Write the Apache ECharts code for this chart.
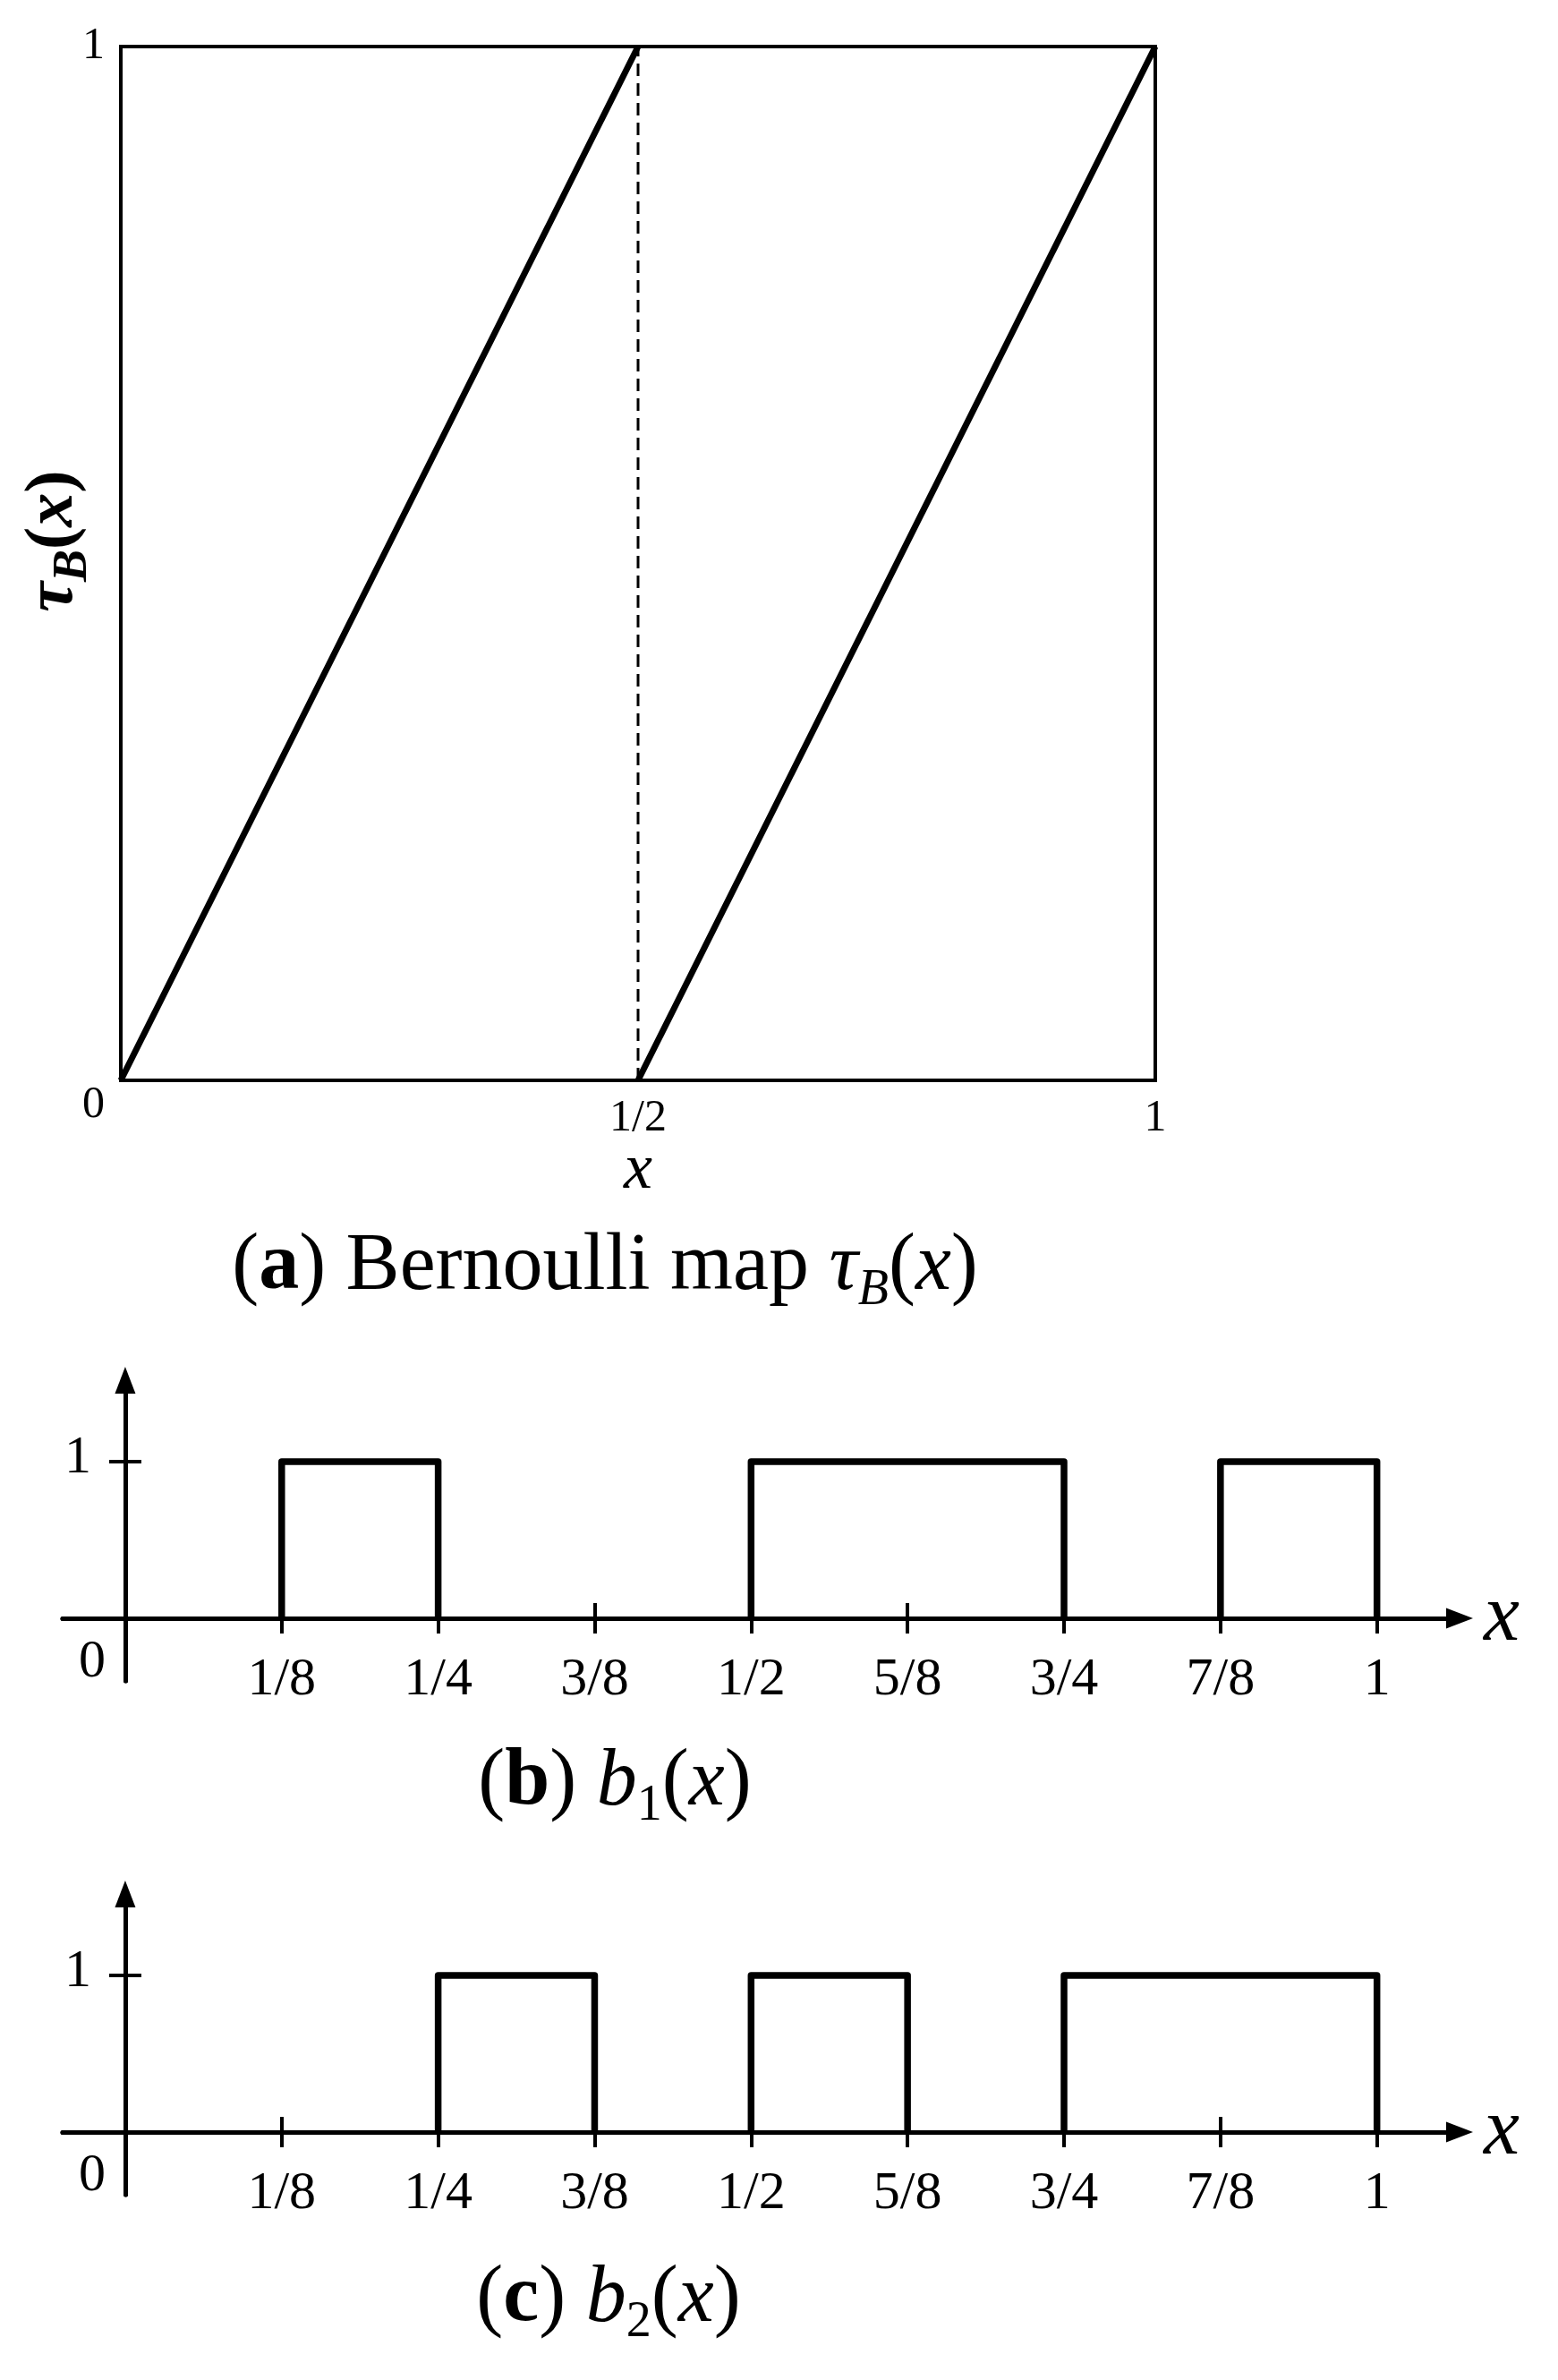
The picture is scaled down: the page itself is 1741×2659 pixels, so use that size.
<!DOCTYPE html>
<html>
<head>
<meta charset="utf-8">
<script src="https://cdn.jsdelivr.net/npm/echarts@6/dist/echarts.min.js"></script>
<style>
  html, body { margin: 0; padding: 0; background: #fff; }
  #chart { width: 1741px; height: 2659px; }
</style>
</head>
<body>
<div id="chart"></div>
<script>
// (a) Bernoulli map
const mapTickVals = [0, 0.5, 1]
const mapTickText = ['0', '1/2', '1']
const branchLeft = [[0, 0], [0.5, 1]]
const branchRight = [[0.5, 0], [1, 1]]
const halfLine = [[0.5, 0], [0.5, 1]]

// (b) b1(x), (c) b2(x): intervals where the function equals 1
const fracTicks = [0.125, 0.25, 0.375, 0.5, 0.625, 0.75, 0.875, 1]
const fracLabels = ['1/8', '1/4', '3/8', '1/2', '5/8', '3/4', '7/8', '1']
const b1On = [[0.125, 0.25], [0.5, 0.75], [0.875, 1]]
const b2On = [[0.25, 0.375], [0.5, 0.625], [0.75, 1]]

const serif = 'Liberation Serif'
const black = '#000'

function pulseSeries(intervals, axisIndex) {
  return intervals.map(function (iv) {
    return {
      type: 'line',
      xAxisIndex: axisIndex,
      yAxisIndex: axisIndex,
      symbol: 'none',
      clip: false,
      lineStyle: { color: black, width: 7.5, join: 'round' },
      data: [[iv[0], 0], [iv[0], 1], [iv[1], 1], [iv[1], 0]]
    }
  })
}

function pulseXAxes(gi) {
  return [
    {
      gridIndex: gi,
      type: 'value',
      min: -0.05,
      max: 1.066,
      splitLine: { show: false },
      axisLine: {
        show: true,
        onZero: true,
        symbol: ['none', 'triangle'],
        symbolSize: [23, 30],
        lineStyle: { color: black, width: 5 }
      },
      axisTick: {
        show: true,
        customValues: fracTicks,
        length: 17,
        lineStyle: { color: black, width: 4 }
      },
      // labels stay on the grid edge, which is 70px under the zero line
      axisLabel: {
        customValues: fracTicks,
        formatter: function (v) { return fracLabels[fracTicks.indexOf(v)] },
        margin: -31,
        fontSize: 60,
        fontFamily: serif,
        color: black
      },
      name: 'x',
      nameLocation: 'end',
      nameGap: 27,
      nameMoveOverlap: false,
      nameTextStyle: {
        fontFamily: serif,
        fontStyle: 'italic',
        fontSize: 90,
        color: black,
        padding: [0, 0, 16, 0]
      }
    },
    {
      // upward half of the ticks
      gridIndex: gi,
      type: 'value',
      position: 'bottom',
      min: -0.05,
      max: 1.066,
      splitLine: { show: false },
      axisLine: { show: true, onZero: true, lineStyle: { color: black, width: 5 } },
      axisTick: {
        show: true,
        inside: true,
        customValues: fracTicks,
        length: 17,
        lineStyle: { color: black, width: 4 }
      },
      axisLabel: { show: false }
    }
  ]
}

function pulseYAxes(gi) {
  return [
    {
      gridIndex: gi,
      type: 'value',
      min: -0.4,
      max: 1.52,
      splitLine: { show: false },
      axisLine: {
        show: true,
        onZero: true,
        symbol: ['none', 'triangle'],
        symbolSize: [23, 30],
        lineStyle: { color: black, width: 5 }
      },
      axisTick: {
        show: true,
        customValues: [1],
        length: 18,
        lineStyle: { color: black, width: 4 }
      },
      axisLabel: {
        customValues: [0, 1],
        formatter: function (v) { return v === 0 ? '{z|0}' : '{o|1}' },
        margin: -48,
        color: black,
        rich: {
          z: { fontSize: 60, fontFamily: serif, color: black, padding: [98, 0, 0, 0] },
          o: { fontSize: 60, fontFamily: serif, color: black, padding: [0, 16, 8, 0] }
        }
      }
    },
    {
      gridIndex: gi,
      type: 'value',
      position: 'left',
      min: -0.4,
      max: 1.52,
      splitLine: { show: false },
      axisLine: { show: true, onZero: true, lineStyle: { color: black, width: 5 } },
      axisTick: {
        show: true,
        inside: true,
        customValues: [1],
        length: 18,
        lineStyle: { color: black, width: 4 }
      },
      axisLabel: { show: false }
    }
  ]
}

const capRich = {
  n: { fontSize: 90, fontFamily: serif, color: black },
  b: { fontSize: 90, fontFamily: serif, fontWeight: 'bold', color: black },
  i: { fontSize: 90, fontFamily: serif, fontStyle: 'italic', color: black },
  s: { fontSize: 56, fontFamily: serif, fontStyle: 'italic', color: black, padding: [53, 0, 0, 0] },
  d: { fontSize: 56, fontFamily: serif, color: black, padding: [53, 0, 0, 0] }
}

function caption(text, x, y) {
  return {
    type: 'text',
    x: x,
    y: y,
    style: { text: text, align: 'center', verticalAlign: 'middle', rich: capRich }
  }
}

const option = {
  animation: false,
  backgroundColor: '#fff',
  grid: [
    { left: 135, top: 52, width: 1156, height: 1155, show: true, borderColor: black, borderWidth: 4 },
    { left: 70, top: 1542, width: 1561, height: 336 },
    { left: 70, top: 2116, width: 1561, height: 336 }
  ],
  xAxis: [
    {
      gridIndex: 0,
      type: 'value',
      min: 0,
      max: 1,
      interval: 0.5,
      splitLine: { show: false },
      axisLine: { show: false },
      axisTick: { show: false },
      axisLabel: {
        formatter: function (v) { return v === 0 ? '' : mapTickText[mapTickVals.indexOf(v)] },
        margin: 18,
        fontSize: 50,
        fontFamily: serif,
        color: black
      },
      name: 'x',
      nameLocation: 'middle',
      nameGap: 65,
      nameMoveOverlap: false,
      nameTextStyle: { fontFamily: serif, fontStyle: 'italic', fontSize: 72, color: black }
    }
  ].concat(pulseXAxes(1), pulseXAxes(2)),
  yAxis: [
    {
      gridIndex: 0,
      type: 'value',
      min: 0,
      max: 1,
      interval: 1,
      splitLine: { show: false },
      axisLine: { show: false },
      axisTick: { show: false },
      axisLabel: {
        formatter: function (v) { return v === 0 ? '{z|0}' : '{o|1}' },
        margin: 18,
        rich: {
          z: { fontSize: 50, fontFamily: serif, color: black, padding: [56, 0, 0, 0] },
          o: { fontSize: 50, fontFamily: serif, color: black }
        }
      },
      name: '{t|τ}{s|B}{p|(}{t|x}{p|)}',
      nameLocation: 'middle',
      nameGap: 26,
      nameMoveOverlap: false,
      nameTextStyle: {
        padding: [0, 0, 0, 50],
        rich: {
          t: { fontSize: 76, fontFamily: serif, fontStyle: 'italic', fontWeight: 'bold', color: black },
          p: { fontSize: 76, fontFamily: serif, fontWeight: 'bold', color: black },
          s: { fontSize: 54, fontFamily: serif, fontStyle: 'italic', fontWeight: 'bold', color: black, padding: [44, 0, 0, 0] }
        }
      }
    }
  ].concat(pulseYAxes(1), pulseYAxes(2)),
  graphic: [
    caption('{n|(}{b|a}{n|) Bernoulli map }{i|τ}{s|B}{n|(}{i|x}{n|)}', 676, 1416),
    caption('{n|(}{b|b}{n|) }{i|b}{d|1}{n|(}{i|x}{n|)}', 687, 1992),
    caption('{n|(}{b|c}{n|) }{i|b}{d|2}{n|(}{i|x}{n|)}', 680, 2569)
  ],
  series: [
    {
      type: 'line',
      xAxisIndex: 0,
      yAxisIndex: 0,
      symbol: 'none',
      clip: false,
      lineStyle: { color: black, width: 7 },
      data: branchLeft
    },
    {
      type: 'line',
      xAxisIndex: 0,
      yAxisIndex: 0,
      symbol: 'none',
      clip: false,
      lineStyle: { color: black, width: 7 },
      data: branchRight
    },
    {
      type: 'line',
      xAxisIndex: 0,
      yAxisIndex: 0,
      symbol: 'none',
      lineStyle: { color: black, width: 3, type: [14, 8] },
      data: halfLine
    }
  ].concat(pulseSeries(b1On, 1), pulseSeries(b2On, 3))
}

const chart = echarts.init(document.getElementById('chart'))
chart.setOption(option)
window.addEventListener('resize', function () { chart.resize() })
</script>
</body>
</html>
